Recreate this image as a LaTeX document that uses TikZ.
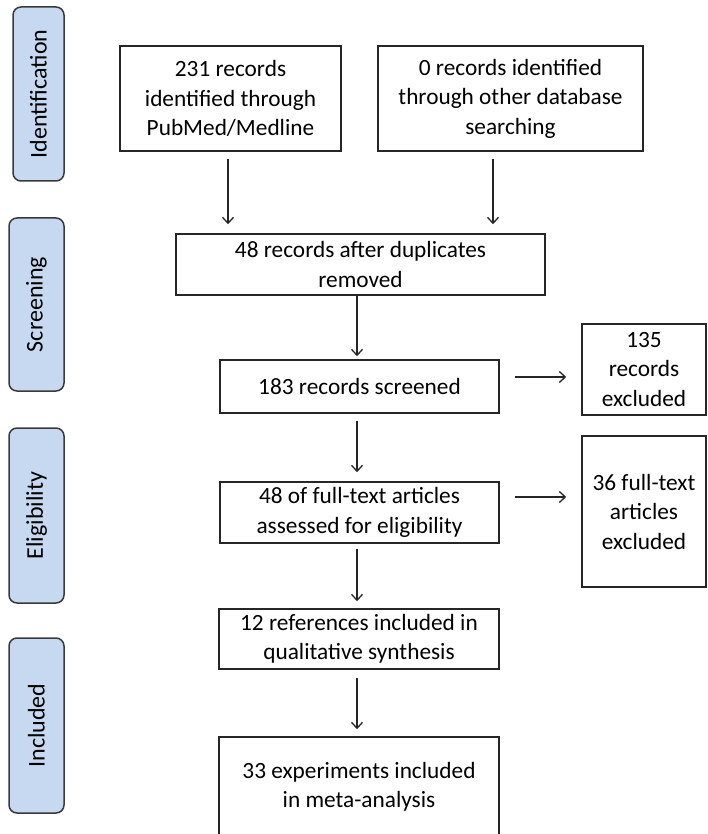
\documentclass[tikz,border=0pt]{standalone}
\usepackage{fontspec}
\setmainfont{Carlito}
\usetikzlibrary{arrows.meta}
\definecolor{barfill}{HTML}{C6D9F1}
\definecolor{barline}{HTML}{3A3A3A}
\definecolor{boxline}{HTML}{262626}
\begin{document}
\begin{tikzpicture}[x=1pt,y=-1pt,
  every node/.style={font=\fontsize{23.3}{29.5}\selectfont, text=black},
  flowbox/.style={draw=boxline, line width=1.5pt, rectangle, inner sep=0pt, align=center},
  phasebar/.style={draw=barline, fill=barfill, line width=1.5pt, rounded corners=8pt, inner sep=0pt, rotate=90, font=\fontsize{24}{29}\selectfont},
  arr/.style={draw=black!85, line width=1.3pt, -{Straight Barb[length=6pt,width=11pt,line width=1.3pt]}}
]
\useasboundingbox (0,0) rectangle (707,834);

% phase bars
\node[phasebar, minimum width=174pt, minimum height=51pt] (barI) at (38.5,94) {Identification};
\node[phasebar, minimum width=173pt, minimum height=55pt] (barS) at (36.5,304.5) {Screening};
\node[phasebar, minimum width=175pt, minimum height=55pt] (barE) at (36.5,515.5) {Eligibility};
\node[phasebar, minimum width=175pt, minimum height=55pt] (barN) at (36.5,725.5) {Included};

% main boxes
\node[flowbox, minimum width=221pt, minimum height=105pt] (b1) at (230.5,98.5)
  {231 records\\identified through\\PubMed/Medline};
\node[flowbox, minimum width=265pt, minimum height=105pt] (b2) at (510.5,98.5)
  {0 records identified\\through other database\\searching};
\node[flowbox, minimum width=369pt, minimum height=61pt] (b3) at (360.5,264.5)
  {48 records after duplicates\\removed};
\node[flowbox, minimum width=279pt, minimum height=53pt] (b4) at (359.5,386.5)
  {183 records  screened};
\node[flowbox, minimum width=279pt, minimum height=61pt] (b5) at (359.5,512.5)
  {48 of  full-text articles\\assessed for eligibility};
\node[flowbox, minimum width=280pt, minimum height=60pt] (b6) at (359,639)
  {12 references included  in\\qualitative synthesis};
\node[flowbox, minimum width=280pt, minimum height=100pt] (b7) at (359,787)
  {33 experiments included\\in meta-analysis};

% exclusion boxes
\node[flowbox, minimum width=124pt, minimum height=91pt] (r1) at (644,369.5)
  {135\\records\\excluded};
\node[flowbox, minimum width=124pt, minimum height=151pt] (r2) at (644,511.5)
  {36 full-text\\articles\\excluded};

% connectors
\draw[arr, shorten <=7pt, shorten >=9pt] ([xshift=-2.5pt]b1.south) -- ([xshift=-2.5pt]b1.south |- b3.north);
\draw[arr, shorten <=7pt, shorten >=9pt] ([xshift=-17.5pt]b2.south) -- ([xshift=-17.5pt]b2.south |- b3.north);
\draw[arr, shorten >=3pt] ([xshift=-2.5pt]b4.north |- b3.south) -- ([xshift=-2.5pt]b4.north);
\draw[arr, shorten <=7pt, shorten >=9pt] ([xshift=-2.5pt]b4.south) -- ([xshift=-2.5pt]b5.north);
\draw[arr, shorten <=5pt, shorten >=7pt] ([xshift=-2.5pt]b5.south) -- ([xshift=-2pt]b6.north);
\draw[arr, shorten <=8pt, shorten >=7pt] ([xshift=-2pt]b6.south) -- ([xshift=-2pt]b7.north);
\draw[arr, shorten <=15pt, shorten >=15pt] ([yshift=9.5pt]b4.east) -- ([yshift=9.5pt]b4.east -| r1.west);
\draw[arr, shorten <=15pt, shorten >=15pt] ([yshift=15.5pt]b5.east) -- ([yshift=15.5pt]b5.east -| r2.west);
\end{tikzpicture}
\end{document}
